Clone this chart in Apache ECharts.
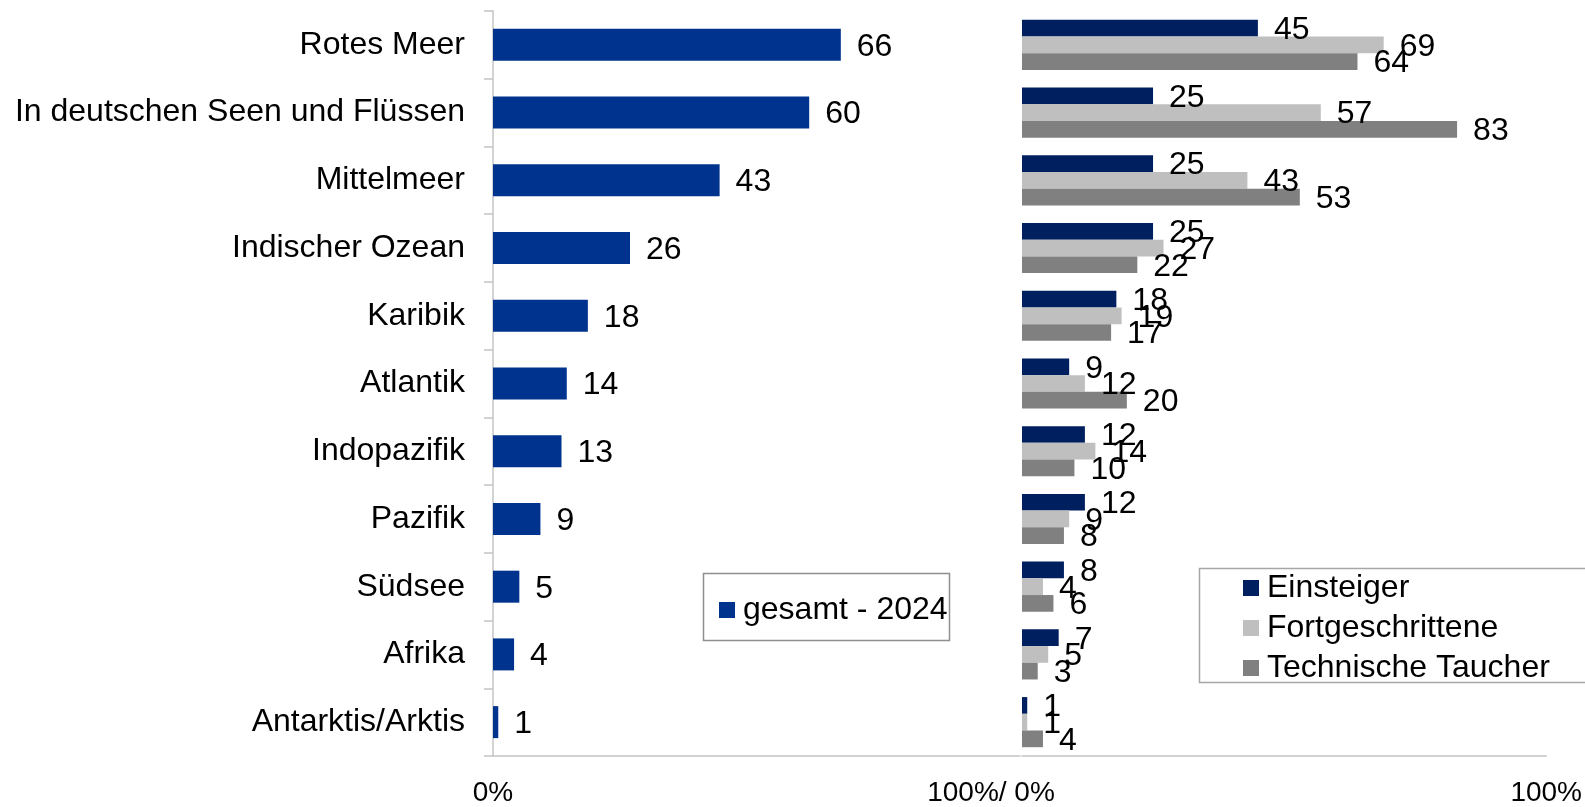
<!DOCTYPE html>
<html>
<head>
<meta charset="utf-8">
<script src="https://cdn.jsdelivr.net/npm/echarts@6/dist/echarts.min.js"></script>
<style>
  html, body { margin: 0; padding: 0; background: #fff; }
  #chart { width: 1585px; height: 807px; }
</style>
</head>
<body>
<div id="chart"></div>
<script>
// Tauchreviere: Gesamtanteil 2024 und Aufschlüsselung nach Erfahrungsstufe (in %)
const categories = [
  'Rotes Meer', 'In deutschen Seen und Flüssen', 'Mittelmeer', 'Indischer Ozean',
  'Karibik', 'Atlantik', 'Indopazifik', 'Pazifik', 'Südsee', 'Afrika', 'Antarktis/Arktis'
];
const gesamt2024 = [66, 60, 43, 26, 18, 14, 13, 9, 5, 4, 1];
const einsteiger = [45, 25, 25, 25, 18, 9, 12, 12, 8, 7, 1];
const fortgeschrittene = [69, 57, 43, 27, 19, 12, 14, 9, 4, 5, 1];
const technischeTaucher = [64, 83, 53, 22, 17, 20, 10, 8, 6, 3, 4];
const seriesNames = ['gesamt - 2024', 'Einsteiger', 'Fortgeschrittene', 'Technische Taucher'];

const FONT = '"Liberation Sans", Arial, sans-serif';
const AXIS_COLOR = '#c4c4c4';

const valueLabel = {
  show: true,
  position: 'right',
  distance: 16,
  offset: [0, 2],
  color: '#000',
  fontSize: 32,
  fontFamily: FONT
};

const chart = echarts.init(document.getElementById('chart'), null, { renderer: 'canvas' });

chart.setOption({
  animation: false,
  backgroundColor: '#fff',
  textStyle: { fontFamily: FONT },
  grid: [
    { left: 493, top: 11, width: 527, height: 745, containLabel: false },
    { left: 1022, top: 11, width: 525, height: 745, containLabel: false }
  ],
  xAxis: [
    {
      gridIndex: 0, type: 'value', min: 0, max: 100, interval: 100,
      axisLine: { show: true, lineStyle: { color: AXIS_COLOR, width: 1.5 } },
      axisTick: { show: false },
      splitLine: { show: false },
      axisLabel: {
        margin: 23, fontSize: 28, color: '#000', fontFamily: FONT,
        formatter: v => v === 100 ? '{mid|100%/ 0%}' : v + '%',
        rich: { mid: { fontSize: 28, color: '#000', fontFamily: FONT, padding: [0, 58, 0, 0] } }
      }
    },
    {
      gridIndex: 1, type: 'value', min: 0, max: 100, interval: 100,
      axisLine: { show: true, lineStyle: { color: AXIS_COLOR, width: 1.5 } },
      axisTick: { show: false },
      splitLine: { show: false },
      axisLabel: {
        margin: 23, fontSize: 28, color: '#000', fontFamily: FONT,
        formatter: v => v === 0 ? '' : v + '%'
      }
    }
  ],
  yAxis: [
    {
      gridIndex: 0, type: 'category', data: categories, inverse: true,
      axisLine: { show: true, lineStyle: { color: AXIS_COLOR, width: 1.5 } },
      axisTick: { show: true, length: 9, lineStyle: { color: AXIS_COLOR, width: 1.5 } },
      axisLabel: { margin: 28, fontSize: 32, color: '#000', fontFamily: FONT }
    },
    {
      gridIndex: 1, type: 'category', data: categories, inverse: true,
      axisLine: { show: false }, axisTick: { show: false }, axisLabel: { show: false }
    }
  ],
  legend: [
    {
      data: [seriesNames[0]],
      left: 719, top: 594, padding: 0,
      itemWidth: 16, itemHeight: 16, icon: 'rect',
      textStyle: { fontSize: 32, color: '#000', fontFamily: FONT, padding: [0, 0, 0, 3] }
    },
    {
      data: seriesNames.slice(1),
      orient: 'vertical',
      left: 1243, top: 572, padding: 0, itemGap: 8,
      itemWidth: 16, itemHeight: 16, icon: 'rect',
      textStyle: { fontSize: 32, color: '#000', fontFamily: FONT, padding: [0, 0, 0, 3] }
    }
  ],
  graphic: [
    { type: 'rect', shape: { x: 703.5, y: 573.5, width: 246, height: 67 },
      style: { fill: 'none', stroke: '#8f8f8f', lineWidth: 1.5 }, z: 1 },
    { type: 'rect', shape: { x: 1199.5, y: 568.5, width: 420, height: 114 },
      style: { fill: 'none', stroke: '#a6a6a6', lineWidth: 1.5 }, z: 1 }
  ],
  series: [
    {
      name: seriesNames[0], type: 'bar', xAxisIndex: 0, yAxisIndex: 0,
      data: gesamt2024, barWidth: 32,
      itemStyle: { color: '#00338d' },
      label: valueLabel
    },
    {
      name: seriesNames[1], type: 'bar', xAxisIndex: 1, yAxisIndex: 1,
      data: einsteiger, barGap: '0%', barCategoryGap: '26%',
      itemStyle: { color: '#001f5f' },
      label: valueLabel
    },
    {
      name: seriesNames[2], type: 'bar', xAxisIndex: 1, yAxisIndex: 1,
      data: fortgeschrittene, barGap: '0%', barCategoryGap: '26%',
      itemStyle: { color: '#bfbfbf' },
      label: valueLabel
    },
    {
      name: seriesNames[3], type: 'bar', xAxisIndex: 1, yAxisIndex: 1,
      data: technischeTaucher, barGap: '0%', barCategoryGap: '26%',
      itemStyle: { color: '#808080' },
      label: valueLabel
    }
  ]
});
</script>
</body>
</html>
